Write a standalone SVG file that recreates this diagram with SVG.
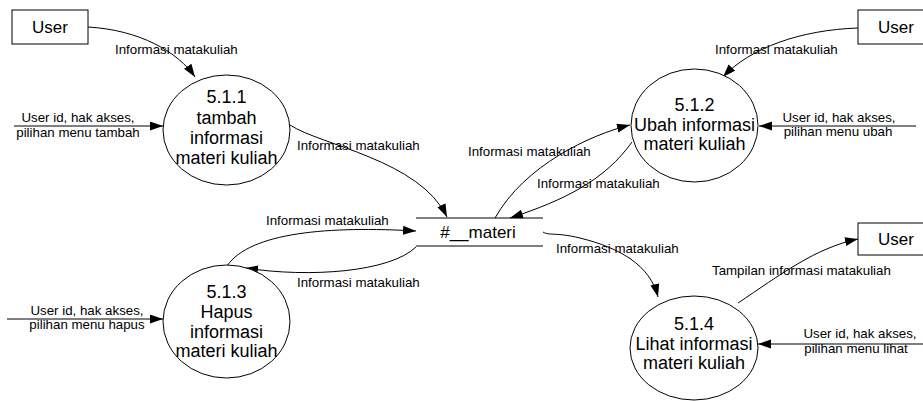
<svg xmlns="http://www.w3.org/2000/svg" width="923" height="401" viewBox="0 0 923 401">
<style>
.bg{fill:#fff}
.proc{fill:#fff;stroke:#000;stroke-width:1}
.ent{fill:#fff;stroke:#000;stroke-width:1}
.store{stroke:#000;stroke-width:1.2;fill:none}
.flow{fill:none;stroke:#000;stroke-width:1;marker-end:url(#arr)}
.pt{font-family:"Liberation Sans",Arial,sans-serif;font-size:18px;fill:#000;text-anchor:middle}
.et{font-family:"Liberation Sans",Arial,sans-serif;font-size:17px;fill:#000;text-anchor:middle}
.lb{font-family:"Liberation Sans",Arial,sans-serif;font-size:13.3px;fill:#000}
.lc{text-anchor:middle}
</style>
<defs>
<marker id="arr" markerUnits="userSpaceOnUse" markerWidth="14" markerHeight="10" refX="13" refY="4.5" orient="auto">
<path d="M0,0 L13,4.5 L0,9 z" fill="#000"/>
</marker>
</defs>
<rect class="bg" x="0" y="0" width="923" height="401"/>

<g id="connectors">
<path class="flow" d="M88,27 C140,30 178,52 195,77"/>
<path class="flow" d="M14,126 L163,126"/>
<path class="flow" d="M290,125 C320,145 420,160 447,217"/>
<path class="flow" d="M858,28 C800,30 750,48 723,77"/>
<path class="flow" d="M916,126 L759,126"/>
<path class="flow" d="M495,218 C525,165 590,135 630,125"/>
<path class="flow" d="M632,142 C605,180 565,200 510,218"/>
<path class="flow" d="M227,266 C250,232 330,226 416,231"/>
<path class="flow" d="M416,247 C390,272 310,278 245,268"/>
<path class="flow" d="M7,319 L163,319"/>
<path class="flow" d="M543,232 C550,236 555,232 580,238 C620,248 650,265 658,297"/>
<path class="flow" d="M738,303 C780,275 815,248 858,239"/>
<path class="flow" d="M923,344 L758,344"/>
</g>

<g id="labels">
<text class="lb" x="115" y="54">Informasi matakuliah</text>
<text class="lb lc" x="78" y="122">User id, hak akses,</text>
<text class="lb lc" x="78" y="137">pilihan menu tambah</text>
<text class="lb" x="297" y="150">Informasi matakuliah</text>
<text class="lb" x="715" y="54">Informasi matakuliah</text>
<text class="lb lc" x="839" y="122">User id, hak akses,</text>
<text class="lb lc" x="838" y="136">pilihan menu ubah</text>
<text class="lb" x="468" y="156">Informasi matakuliah</text>
<text class="lb" x="537" y="188">Informasi matakuliah</text>
<text class="lb" x="266" y="225">Informasi matakuliah</text>
<text class="lb" x="297" y="287">Informasi matakuliah</text>
<text class="lb lc" x="87" y="315">User id, hak akses,</text>
<text class="lb lc" x="87" y="329">pilihan menu hapus</text>
<text class="lb" x="556" y="253">Informasi matakuliah</text>
<text class="lb" x="712" y="275">Tampilan informasi matakuliah</text>
<text class="lb lc" x="860" y="338">User id, hak akses,</text>
<text class="lb lc" x="856" y="353">pilihan menu lihat</text>
</g>

<g id="user1">
<rect class="ent" x="12" y="10" width="76" height="34"/>
<text class="et" x="50" y="33">User</text>
</g>
<g id="user2">
<rect class="ent" x="858" y="10" width="80" height="34"/>
<text class="et" x="896" y="33">User</text>
</g>
<g id="user3">
<rect class="ent" x="858" y="223" width="80" height="32"/>
<text class="et" x="896" y="245">User</text>
</g>

<g id="p511">
<ellipse class="proc" cx="226.5" cy="130" rx="63.5" ry="55"/>
<text class="pt" x="226.5" y="103">5.1.1</text>
<text class="pt" x="226.5" y="124">tambah</text>
<text class="pt" x="226.5" y="144">informasi</text>
<text class="pt" x="226.5" y="164">materi kuliah</text>
</g>
<g id="p512">
<ellipse class="proc" cx="694.5" cy="125.5" rx="63.5" ry="56.5"/>
<text class="pt" x="694.5" y="111">5.1.2</text>
<text class="pt" x="694.5" y="131">Ubah informasi</text>
<text class="pt" x="694.5" y="150">materi kuliah</text>
</g>
<g id="p513">
<ellipse class="proc" cx="226.5" cy="321.5" rx="63.5" ry="56.5"/>
<text class="pt" x="226.5" y="298">5.1.3</text>
<text class="pt" x="226.5" y="318">Hapus</text>
<text class="pt" x="226.5" y="338">informasi</text>
<text class="pt" x="226.5" y="357">materi kuliah</text>
</g>
<g id="p514">
<ellipse class="proc" cx="694" cy="348" rx="64" ry="52"/>
<text class="pt" x="694" y="330">5.1.4</text>
<text class="pt" x="694" y="350">Lihat informasi</text>
<text class="pt" x="694" y="369">materi kuliah</text>
</g>
<g id="store">
<line class="store" x1="416" y1="218" x2="543" y2="218"/>
<line class="store" x1="416" y1="246" x2="543" y2="246"/>
<text class="et" x="478" y="238">#__materi</text>
</g>
</svg>
